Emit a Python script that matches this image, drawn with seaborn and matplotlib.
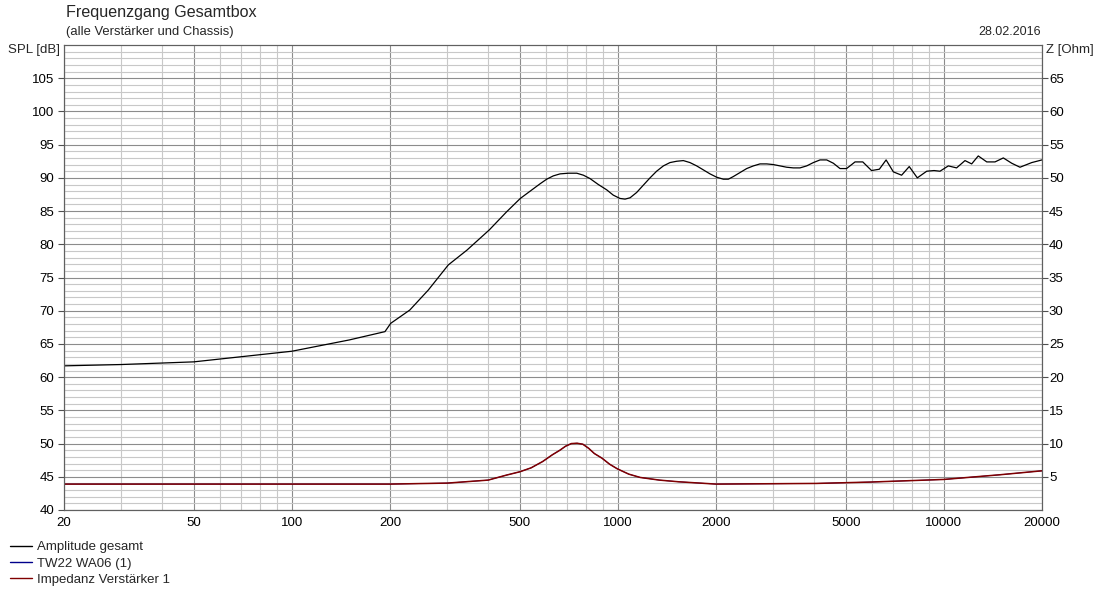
import numpy as np
import pandas as pd
import seaborn as sns
import matplotlib.pyplot as plt
from matplotlib.ticker import FixedLocator, NullFormatter, FixedFormatter

# SPL curve (left axis, dB)
spl_freq = [20, 30, 50, 100, 150, 193, 201, 230, 262, 302, 344, 403, 456, 502, 577,
            605, 634, 665, 705, 748, 784, 821, 871, 924, 968, 1015, 1052, 1090, 1142,
            1197, 1255, 1315, 1379, 1445, 1515, 1588, 1664, 1745, 1829, 1917, 2009,
            2106, 2182, 2261, 2370, 2484, 2604, 2729, 2861, 2999, 3143, 3295, 3454,
            3620, 3795, 3978, 4170, 4371, 4582, 4802, 5030, 5340, 5640, 6000, 6340,
            6650, 7000, 7420, 7830, 8290, 8860, 9330, 9730, 10320, 10940, 11610,
            12170, 12750, 13540, 14350, 15220, 16150, 17120, 18600, 20000]
spl_db = [61.7, 61.9, 62.3, 63.9, 65.6, 66.85, 68.1, 70.1, 73.1, 76.9, 79.1, 82.15,
          84.9, 86.9, 89.1, 89.8, 90.3, 90.6, 90.7, 90.7, 90.4, 89.9, 89.0, 88.2, 87.4,
          86.9, 86.8, 87.0, 87.8, 88.9, 90.0, 91.0, 91.8, 92.3, 92.5, 92.6, 92.3, 91.8,
          91.2, 90.6, 90.1, 89.8, 89.8, 90.2, 90.8, 91.4, 91.8, 92.1, 92.1, 92.0, 91.8,
          91.6, 91.5, 91.5, 91.8, 92.3, 92.7, 92.7, 92.2, 91.4, 91.4, 92.4, 92.4, 91.1,
          91.3, 92.7, 90.9, 90.4, 91.7, 90.0, 91.0, 91.1, 91.0, 91.8, 91.5, 92.6, 92.1,
          93.3, 92.4, 92.4, 93.0, 92.2, 91.6, 92.3, 92.7]

# impedance curves (right axis, Ohm)
imp_freq = [20, 100, 200, 300, 400, 455, 500, 542, 588, 629, 664, 691, 720, 750, 781,
            813, 847, 894, 943, 996, 1080, 1171, 1341, 1535, 2000, 4060, 5900, 10000,
            14820, 20000]
imp_ohm = [3.9, 3.9, 3.9, 4.05, 4.5, 5.25, 5.75, 6.35, 7.3, 8.3, 9.0, 9.6, 10.0, 10.05,
           9.9, 9.3, 8.5, 7.8, 6.9, 6.2, 5.4, 4.9, 4.5, 4.25, 3.9, 4.0, 4.2, 4.6, 5.3,
           5.9]

freq_ticks = [20, 50, 100, 200, 500, 1000, 2000, 5000, 10000, 20000]
spl_ticks = list(range(40, 110, 5))
z_ticks = list(range(5, 70, 5))

sns.set_style("white")
plt.rcParams['font.family'] = ['Liberation Sans', 'DejaVu Sans']

W, H = 1106, 589
fig = plt.figure(figsize=(W / 100, H / 100), dpi=100)
ax = fig.add_axes([64 / W, 79 / H, 978 / W, 465 / H])

spl = pd.DataFrame({'f': spl_freq, 'db': spl_db})
imp = pd.DataFrame({'f': imp_freq, 'z': imp_ohm})

sns.lineplot(data=spl, x='f', y='db', ax=ax, color='black', lw=0.9,
             label='Amplitude gesamt', legend=False)
ax.set_xscale('log')
ax.set_xlim(20, 20000)
ax.set_ylim(40, 110)

minor = [m * d for d in (10, 100, 1000, 10000) for m in range(2, 10)]
minor = [f for f in minor if 20 < f < 20000 and f not in freq_ticks]
ax.xaxis.set_major_locator(FixedLocator(freq_ticks))
ax.xaxis.set_major_formatter(FixedFormatter([str(f) for f in freq_ticks]))
ax.xaxis.set_minor_locator(FixedLocator(minor))
ax.xaxis.set_minor_formatter(NullFormatter())
ax.yaxis.set_major_locator(FixedLocator(spl_ticks))
ax.yaxis.set_minor_locator(FixedLocator(list(range(41, 110))))

ax.grid(which='major', color='#8c8c8c', lw=0.8)
ax.grid(which='minor', color='#c8c8c8', lw=0.8)
ax.set_axisbelow(True)
ax.tick_params(which='minor', length=0)
ax.tick_params(which='major', length=4, width=0.8, color='#505050',
               labelsize=9.5, labelcolor='black', pad=3)
ax.tick_params(axis='x', which='major', pad=1)
ax.set_xlabel('')
ax.set_ylabel('')
for s in ax.spines.values():
    s.set_color('#606060')
    s.set_linewidth(0.8)

# the chassis curve lies under the amplifier impedance curve
ax2 = ax.twinx()
sns.lineplot(data=imp, x='f', y='z', ax=ax2, color='#00008b', lw=0.6,
             label='TW22 WA06 (1)', legend=False)
sns.lineplot(data=imp, x='f', y='z', ax=ax2, color='#800000', lw=1.1,
             label='Impedanz Verstärker 1', legend=False)
ax2.set_ylim(0, 70)
ax2.yaxis.set_major_locator(FixedLocator(z_ticks))
ax2.set_ylabel('')
ax2.grid(False)
ax2.tick_params(which='major', length=4, width=0.8, color='#505050',
                labelsize=9.5, labelcolor='black', pad=1)
for s in ax2.spines.values():
    s.set_color('#606060')
    s.set_linewidth(0.8)

fig.text(66 / W, 1 - 13 / H, 'Frequenzgang Gesamtbox', fontsize=11.6, va='center')
fig.text(66 / W, 1 - 32 / H, '(alle Verstärker und Chassis)', fontsize=9.4, va='center')
fig.text(1041 / W, 1 - 32 / H, '28.02.2016', fontsize=9, va='center', ha='right')
fig.text(8 / W, 1 - 50 / H, 'SPL [dB]', fontsize=9.5, va='center')
fig.text(1046 / W, 1 - 50 / H, 'Z [Ohm]', fontsize=9.5, va='center')

h1, lb1 = ax.get_legend_handles_labels()
h2, lb2 = ax2.get_legend_handles_labels()
leg = fig.legend(h1 + h2, lb1 + lb2, loc='upper left',
                 bbox_to_anchor=(10 / W, 1 - 541 / H),
                 frameon=False, fontsize=9.5, handlelength=1.67, labelspacing=0.31,
                 handletextpad=0.38, borderaxespad=0, borderpad=0)
for line in leg.get_lines():
    line.set_linewidth(1.0)

fig.savefig('out.png', dpi=100)
plt.close()
